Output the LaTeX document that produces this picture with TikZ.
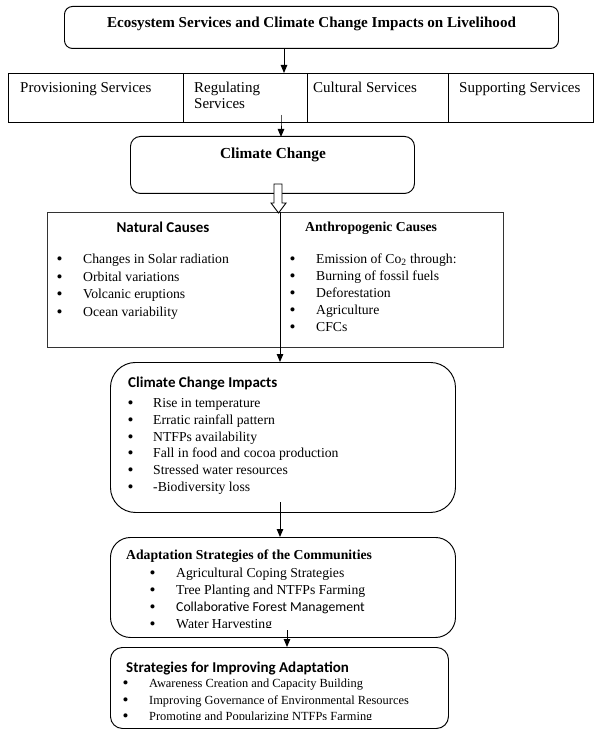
\documentclass[tikz,border=0pt]{standalone}
\usepackage{fontspec}
\setmainfont{Liberation Serif}
\newfontfamily\calfont{Carlito}
\usetikzlibrary{arrows.meta}
\begin{document}
\begin{tikzpicture}[x=1pt,y=-1pt,
  box/.style={draw=black, line width=0.95pt, inner sep=0pt, anchor=north west},
  tx/.style={inner sep=0pt, anchor=base west, font=\fontsize{13.7}{16}\selectfont},
  bul/.style={inner sep=0pt, anchor=base west, font=\fontsize{17}{18}\selectfont},
  txl/.style={inner sep=0pt, anchor=base west, font=\fontsize{15}{18}\selectfont},
  txs/.style={inner sep=0pt, anchor=base west, font=\fontsize{12.4}{15}\selectfont},
  arr/.style={line width=0.95pt, -{Triangle[length=8pt,width=6.5pt]}},
]
\useasboundingbox (0,0) rectangle (600,735);
\fill[white] (0,0) rectangle (600,735);

% title
\node[box, rounded corners=8pt, minimum width=494pt, minimum height=42pt] (title) at (64,6) {};
\node[inner sep=0pt, anchor=base, font=\fontsize{15.1}{18}\selectfont\bfseries] (titletxt) at (311.5,27.5)
  {Ecosystem Services and Climate Change Impacts on Livelihood};

% services row
\node[box, minimum width=175pt, minimum height=49pt] (c1) at (8,73) {};
\node[box, minimum width=124pt, minimum height=49pt] (c2) at (183,73) {};
\node[box, minimum width=141pt, minimum height=49pt] (c3) at (307,73) {};
\node[box, minimum width=145pt, minimum height=49pt] (c4) at (448,73) {};
\node[txl] (t1) at (20,93) {Provisioning Services};
\node[txl] (t2a) at (194,93) {Regulating};
\node[txl] (t2b) at (194,109) {Services};
\node[txl] (t3) at (313,93) {Cultural Services};
\node[txl] (t4) at (459,93) {Supporting Services};

\coordinate (p1) at (284,0);
\draw[arr] (title.south -| p1) -- (c2.north -| p1);
\coordinate (p2) at (281,115);
\draw[arr] (p2) -- (c2.south -| p2) -- ++(0,14);

% climate change
\node[box, rounded corners=10pt, minimum width=284pt, minimum height=57pt] (cc) at (130,136) {};
\node[inner sep=0pt, anchor=base, font=\fontsize{15.3}{18}\selectfont\bfseries] (cctxt) at (273,159) {Climate Change};

% causes
\node[box, draw=black!80, minimum width=456pt, minimum height=135pt] (causes) at (47,212) {};
\node[inner sep=0pt, anchor=base, font=\fontsize{15}{18}\selectfont\calfont\bfseries] (nat) at (163,232) {Natural Causes};
\foreach \t [count=\i] in {Changes in Solar radiation, Orbital variations, Volcanic eruptions, Ocean variability} {
  \node[bul] (nb\i) at (56.5, 247+17.6*\i) {•};
  \node[tx] (nt\i) at (83, 246+17.6*\i) {\t};
}
\node[inner sep=0pt, anchor=base west, font=\fontsize{13.7}{16}\selectfont\bfseries] (anth) at (305,231) {Anthropogenic Causes};
\foreach \t [count=\i] in {{Emission of Co\textsubscript{2} through:}, Burning of fossil fuels, Deforestation, Agriculture, CFCs} {
  \node[bul] (ab\i) at (289.5, 247.5+17*\i) {•};
  \node[tx] (at\i) at (316, 246.5+17*\i) {\t};
}

% hollow arrow
\draw[line width=0.9pt, fill=white] (274,184) -- (274,203) -- (271,203) -- (278.5,213) -- (286,203) -- (282,203) -- (282,184) -- cycle;

% impacts
\node[box, rounded corners=25pt, minimum width=345pt, minimum height=150pt] (impacts) at (110,362) {};
\coordinate (p3) at (280,0);
\draw[arr] (causes.north -| p3) -- (impacts.north -| p3);
\node[inner sep=0pt, anchor=base west, font=\fontsize{15}{18}\selectfont\calfont\bfseries] (imptitle) at (128,387) {Climate Change Impacts};
\foreach \t [count=\i] in {Rise in temperature, Erratic rainfall pattern, NTFPs availability, Fall in food and cocoa production, Stressed water resources, -Biodiversity loss} {
  \node[bul] (ib\i) at (127.5, 391.7+16.8*\i) {•};
  \node[tx] (it\i) at (153, 390.7+16.8*\i) {\t};
}

% adaptation
\node[box, rounded corners=20pt, minimum width=345pt, minimum height=100pt] (adapt) at (110,537) {};
\coordinate (p4) at (280,502);
\draw[arr] (p4) -- (adapt.north -| p4);
\node[inner sep=0pt, anchor=base west, font=\fontsize{13.7}{16}\selectfont\bfseries] (adtitle) at (126,559.5) {Adaptation Strategies of the Communities};
\node[bul] (adb1) at (149.5,578.5) {•};
\node[tx] (adt1) at (176,577.5) {Agricultural Coping Strategies};
\node[bul] (adb2) at (149.5,595.5) {•};
\node[tx] (adt2) at (176,594.5) {Tree Planting and NTFPs Farming};
\node[bul] (adb3) at (149.5,612.5) {•};
\node[tx, font=\fontsize{13.7}{16}\selectfont\calfont] (adt3) at (176,611.5) {Collaborative Forest Management};
\begin{scope}
  \clip (140,612) rectangle (460,627);
  \node[bul] (adb4) at (149.5,629.5) {•};
  \node[tx] (adt4) at (176,628.5) {Water Harvesting};
\end{scope}

% strategies
\node[box, rounded corners=12pt, minimum width=338pt, minimum height=81pt] (strat) at (110,647) {};
\coordinate (p5) at (287,630);
\draw[arr] (p5) -- (strat.north -| p5);
\node[inner sep=0pt, anchor=base west, font=\fontsize{15}{18}\selectfont\calfont\bfseries] (sttitle) at (126,672) {Strategies for Improving Adaptation};
\node[bul] (sb1) at (122.5,688) {•};
\node[txs] (st1) at (149,687) {Awareness Creation and Capacity Building};
\node[bul] (sb2) at (122.5,705) {•};
\node[txs] (st2) at (149,704) {Improving Governance of Environmental Resources};
\begin{scope}
  \clip (115,705) rectangle (445,719);
  \node[bul] (sb3) at (122.5,721.5) {•};
  \node[txs] (st3) at (149,720.5) {Promoting and Popularizing NTFPs Farming};
\end{scope}
\end{tikzpicture}
\end{document}
